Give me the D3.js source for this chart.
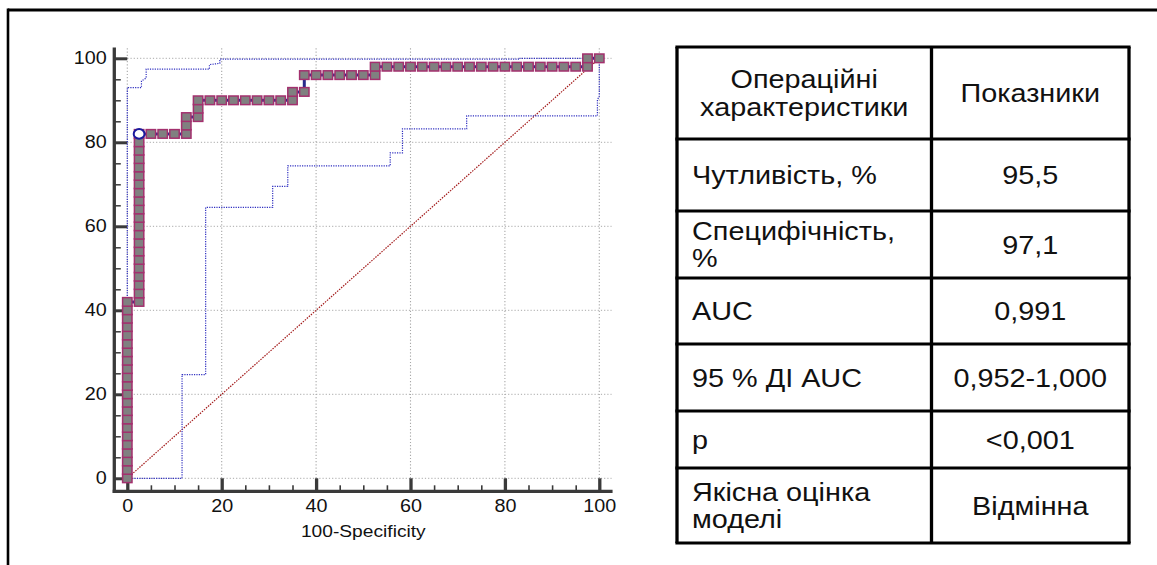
<!DOCTYPE html>
<html>
<head>
<meta charset="utf-8">
<script src="https://cdn.jsdelivr.net/npm/d3@7"></script>
<style>
  body { margin: 0; background: #fff; }
  svg { display: block; font-family: Arial, 'Liberation Sans', sans-serif; }
</style>
</head>
<body>
<svg width="1157" height="565"></svg>
<script>
// ROC curve points (100-Specificity, Sensitivity)
var rocFpr = [0,0,0,0,0,0,0,0,0,0,0,0,0,0,0,0,0,0,0,0,0,0,
  2.5,2.5,2.5,2.5,2.5,2.5,2.5,2.5,2.5,2.5,2.5,2.5,2.5,2.5,2.5,2.5,2.5,2.5,2.5,2.5,2.5,
  5,7.5,10,12.5,12.5,12.5,15,15,15,17.5,20,22.5,25,27.5,30,32.5,35,35,37.5,37.5,
  40,42.5,45,47.5,50,52.5,52.5,55,57.5,60,62.5,65,67.5,70,72.5,75,77.5,80,82.5,85,87.5,90,92.5,95,
  97.5,97.5,100];
var rocTpr = [0,2,4,6,8,10,12,14,16,18,20,22,24,26,28,30,32,34,36,38,40,42,
  42,44,46,48,50,52,54,56,58,60,62,64,66,68,70,72,74,76,78,80,82,
  82,82,82,82,84,86,86,88,90,90,90,90,90,90,90,90,90,92,92,96,
  96,96,96,96,96,96,98,98,98,98,98,98,98,98,98,98,98,98,98,98,98,98,98,98,
  98,100,100];

// criterion point
var criterion = [2.5, 82];

// 95% confidence bounds
var upperFpr = [0,0,3,3,4,4,17.4,17.4,19.6,19.6,83,83,100];
var upperTpr = [0,93,93,94.6,95.3,97.4,97.4,98.5,98.8,99.8,99.8,100,100];
var lowerFpr = [0,11.6,11.6,16.6,16.6,30.8,30.8,34,34,55.7,55.7,58.3,58.3,71.9,71.9,99.6,99.6,100,100];
var lowerTpr = [0,0,24.7,24.7,64.5,64.5,69.5,69.5,74.4,74.4,77.5,77.5,83.2,83.2,86.3,86.3,90.1,91,100];

var majorTicks = [0,20,40,60,80,100];
var minorTicks = [5,10,15,25,30,35,45,50,55,65,70,75,85,90,95];
var xTitle = '100-Specificity';

// table
var headLabels = [['Операційні', 'характеристики'], ['Показники']];
var rowLabels = [['Чутливість, %'], ['Специфічність,', '%'], ['AUC'], ['95 % ДІ AUC'], ['p'], ['Якісна оцінка', 'моделі']];
var rowValues = ['95,5', '97,1', '0,991', '0,952-1,000', '<0,001', 'Відмінна'];

var sx = 1.13; // the source picture is stretched sideways

var svg = d3.select('svg');
svg.append('rect').attr('width', 1157).attr('height', 565).attr('fill', '#fff');

// outer frame
svg.append('line').attr('x1', 8).attr('x2', 1157).attr('y1', 10).attr('y2', 10)
  .attr('stroke', '#000').attr('stroke-width', 3);
svg.append('line').attr('x1', 8).attr('x2', 8).attr('y1', 8.5).attr('y2', 565)
  .attr('stroke', '#000').attr('stroke-width', 2.6);

var x = d3.scaleLinear().domain([0, 100]).range([127.3, 599.3]);
var y = d3.scaleLinear().domain([0, 100]).range([478.3, 58.3]);
var gap = 13;
var ext = 102.6;

var plot = svg.append('g');

// gridlines
plot.append('g').selectAll('line').data(majorTicks).enter().append('line')
  .attr('x1', x(0)).attr('x2', x(ext))
  .attr('y1', function(d) { return y(d); }).attr('y2', function(d) { return y(d); })
  .attr('stroke', '#a8a8a8').attr('stroke-width', 1).attr('stroke-dasharray', '1.2,2');
plot.append('g').selectAll('line').data(majorTicks).enter().append('line')
  .attr('y1', y(0)).attr('y2', y(ext))
  .attr('x1', function(d) { return x(d); }).attr('x2', function(d) { return x(d); })
  .attr('stroke', '#a8a8a8').attr('stroke-width', 1.1).attr('stroke-dasharray', '1.2,2');

// axes
var axisColor = '#3a3a3a';
var yAxisX = x(0) - gap;
var xAxisY = y(0) + gap;

var yMajor = plot.append('g').attr('transform', 'translate(' + yAxisX + ',0)')
  .call(d3.axisLeft(y).tickValues(majorTicks).tickSizeInner(-gap).tickSizeOuter(0).tickPadding(7));
var yMinor = plot.append('g').attr('transform', 'translate(' + yAxisX + ',0)')
  .call(d3.axisLeft(y).tickValues(minorTicks).tickSizeInner(-6.5).tickSizeOuter(0).tickFormat(''));
var xMajor = plot.append('g').attr('transform', 'translate(0,' + xAxisY + ')')
  .call(d3.axisBottom(x).tickValues(majorTicks).tickSizeInner(-gap).tickSizeOuter(0).tickPadding(8));
var xMinor = plot.append('g').attr('transform', 'translate(0,' + xAxisY + ')')
  .call(d3.axisBottom(x).tickValues(minorTicks).tickSizeInner(-6).tickSizeOuter(0).tickFormat(''));

[yMajor, yMinor, xMajor, xMinor].forEach(function(g) {
  g.select('.domain').remove();
  g.selectAll('line').attr('stroke', axisColor);
});
yMajor.selectAll('line').attr('stroke-width', 3);
xMajor.selectAll('line').attr('stroke-width', 3.3);
yMinor.selectAll('line').attr('stroke-width', 1.5);
xMinor.selectAll('line').attr('stroke-width', 1.6);

yMajor.selectAll('text')
  .attr('x', 0).attr('transform', 'translate(-7.5,0) scale(' + sx + ',1)')
  .attr('font-size', 17.5).attr('font-family', null).attr('fill', '#111');
xMajor.selectAll('text')
  .attr('y', 0).attr('transform', 'translate(0,8.3) scale(' + sx + ',1)')
  .attr('font-size', 17.5).attr('font-family', null).attr('fill', '#111');

plot.append('line').attr('x1', yAxisX).attr('x2', yAxisX)
  .attr('y1', y(ext)).attr('y2', xAxisY + 1.6)
  .attr('stroke', axisColor).attr('stroke-width', 3.3);
plot.append('line').attr('x1', yAxisX - 1.6).attr('x2', x(ext) + 1)
  .attr('y1', xAxisY).attr('y2', xAxisY)
  .attr('stroke', axisColor).attr('stroke-width', 3.3);

plot.append('text')
  .attr('transform', 'translate(' + x(50) + ',537) scale(' + sx + ',1)')
  .attr('text-anchor', 'middle').attr('font-size', 17).attr('fill', '#111')
  .text(xTitle);

// diagonal reference line
plot.append('line')
  .attr('x1', x(0)).attr('y1', y(0)).attr('x2', x(100)).attr('y2', y(100))
  .attr('stroke', '#a31a1a').attr('stroke-width', 1.2).attr('stroke-dasharray', '1.5,1.2');

// confidence bounds
var line = d3.line().x(function(d) { return x(d[0]); }).y(function(d) { return y(d[1]); });
var upper = upperFpr.map(function(v, i) { return [v, upperTpr[i]]; });
var lower = lowerFpr.map(function(v, i) { return [v, lowerTpr[i]]; });
plot.selectAll('path.band').data([upper, lower]).enter().append('path')
  .attr('class', 'band').attr('d', line).attr('fill', 'none')
  .attr('stroke', '#2f2fc0').attr('stroke-width', 1.2).attr('stroke-dasharray', '1.2,1.2');

// ROC curve
var roc = rocFpr.map(function(v, i) { return [v, rocTpr[i]]; });
plot.append('path').attr('d', line(roc)).attr('fill', 'none')
  .attr('stroke', '#2a2a8c').attr('stroke-width', 3);

var sw = 9.4, sh = 8.6;
plot.append('g').selectAll('rect').data(roc).enter().append('rect')
  .attr('x', function(d) { return x(d[0]) - sw / 2; })
  .attr('y', function(d) { return y(d[1]) - sh / 2; })
  .attr('width', sw).attr('height', sh)
  .attr('fill', '#808080').attr('stroke', '#a3306e').attr('stroke-width', 1.5);

plot.append('ellipse')
  .attr('cx', x(criterion[0])).attr('cy', y(criterion[1]))
  .attr('rx', 5.4).attr('ry', 4.8)
  .attr('fill', '#fff').attr('stroke', '#1a1a9e').attr('stroke-width', 2);

// table
var colEdges = [677, 931.5, 1129];
var rowEdges = [47, 139, 211, 278, 344, 411, 468, 543];
var lh = 27.5;
var fs = 25.5;
var tbl = svg.append('g');

function putText(g, lines, cx, cy, anchor) {
  var t = g.append('g').attr('transform', 'translate(' + cx + ',' + cy + ') scale(' + sx + ',1)');
  lines.forEach(function(s, i) {
    t.append('text')
      .attr('x', 0)
      .attr('y', (i - (lines.length - 1) / 2) * lh)
      .attr('dy', '0.36em')
      .attr('text-anchor', anchor)
      .attr('font-size', fs).attr('fill', '#111')
      .text(s);
  });
}

var headMid = (rowEdges[0] + rowEdges[1]) / 2;
putText(tbl, headLabels[0], (colEdges[0] + colEdges[1]) / 2, headMid, 'middle');
putText(tbl, headLabels[1], (colEdges[1] + colEdges[2]) / 2, headMid, 'middle');

rowLabels.forEach(function(lab, i) {
  var mid = (rowEdges[i + 1] + rowEdges[i + 2]) / 2;
  putText(tbl, lab, colEdges[0] + 15, mid, 'start');
  putText(tbl, [rowValues[i]], (colEdges[1] + colEdges[2]) / 2, mid, 'middle');
});

tbl.selectAll('line.h').data(rowEdges).enter().append('line')
  .attr('x1', colEdges[0] - 1.6).attr('x2', colEdges[2] + 1.6)
  .attr('y1', function(d) { return d; }).attr('y2', function(d) { return d; })
  .attr('stroke', '#000').attr('stroke-width', 3);
tbl.selectAll('line.v').data(colEdges).enter().append('line')
  .attr('y1', rowEdges[0]).attr('y2', rowEdges[rowEdges.length - 1])
  .attr('x1', function(d) { return d; }).attr('x2', function(d) { return d; })
  .attr('stroke', '#000').attr('stroke-width', 3.3);
</script>
</body>
</html>
